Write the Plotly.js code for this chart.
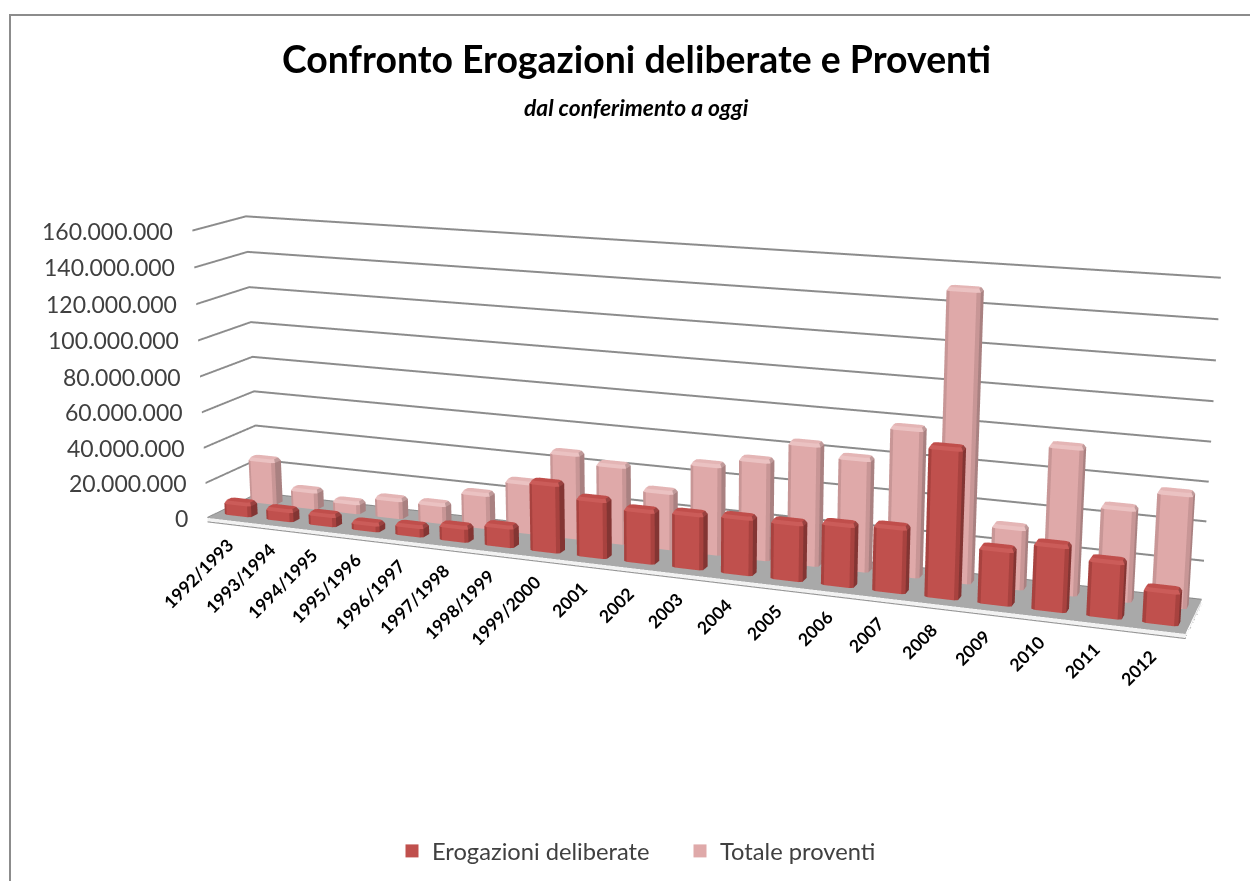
<!DOCTYPE html>
<html><head><meta charset="utf-8">
<script src="https://cdn.plot.ly/plotly-3.0.1.min.js"></script>
<style>html,body{margin:0;padding:0;background:#fff;width:1250px;height:881px;overflow:hidden}
#wrap{position:absolute;left:0;top:0;width:1250px;height:881px;overflow:hidden}
#chart{position:absolute;left:-325px;top:-506px;width:2000px;height:1830px}</style>
</head><body><div id="wrap"><div id="chart"></div></div>
<script>
const categories=["1992/1993","1993/1994","1994/1995","1995/1996","1996/1997","1997/1998","1998/1999","1999/2000","2001","2002","2003","2004","2005","2006","2007","2008","2009","2010","2011","2012"];
const erogazioni=[8,7,7,5,6.5,9,12,38,32,29,30,31,31,33,34.5,77,29,34,29,17.5].map(v=>v*1e6);
const proventi=[26,11,7,11.5,11.5,20,29,47.5,43.5,32,49,54,65,60,78,150,32.5,76,48,58].map(v=>v*1e6);
const zTicks=[0,20,40,60,80,100,120,140,160].map(v=>v*1e6);
const zTickText=["0","20.000.000","40.000.000","60.000.000","80.000.000","100.000.000","120.000.000","140.000.000","160.000.000"];

const DW=2000,DH=1830,OX=-325,OY=-506;
const px=x=>(x-OX)/DW, py=y=>1-(y-OY)/DH;

const redShades={f:'#c0504d',fr:'#a8423f',r:'#833533',bk:'#8a3a38',l:'#a03e3c',fl:'#a8423f',top:'#c04e4b',tf:'#cb5c59',tr:'#9a4240'};
const pinkShades={f:'#dfa9a9',fr:'#c89696',r:'#a98181',bk:'#b08888',l:'#c49494',fl:'#c89696',top:'#e4b5b5',tf:'#ebc2c2',tr:'#c09a9a'};

function barMesh(values,row,shades,name){
  const X=[],Y=[],Z=[],I=[],J=[],K=[],C=[];
  const hx=0.32,hy=0.16,cx=0.07,cy=0.04,cz=1.8e6;
  values.forEach((v,idx)=>{
    const xc=idx,yc=row+0.5;
    const octo=(ins)=>{const a=hx-ins,b=hy-ins,c=cx,d=cy;
      return [[xc-a+c,yc-b],[xc+a-c,yc-b],[xc+a,yc-b+d],[xc+a,yc+b-d],[xc+a-c,yc+b],[xc-a+c,yc+b],[xc-a,yc+b-d],[xc-a,yc-b+d]];};
    const base=X.length;
    const rings=[[octo(0),0],[octo(0),v-cz],[octo(0.04),v]];
    rings.forEach(([pts,z])=>pts.forEach(p=>{X.push(p[0]);Y.push(p[1]);Z.push(z);}));
    const side=[shades.f,shades.fr,shades.r,shades.r,shades.bk,shades.l,shades.l,shades.fl];
    const topc=[shades.tf,shades.tf,shades.tr,shades.tr,shades.top,shades.top,shades.top,shades.tf];
    for(let r=0;r<2;r++)for(let s=0;s<8;s++){
      const a=base+r*8+s,b=base+r*8+(s+1)%8,c=base+(r+1)*8+(s+1)%8,d=base+(r+1)*8+s;
      const col=r===0?side[s]:topc[s];
      I.push(a,a);J.push(b,c);K.push(c,d);C.push(col,col);
    }
    for(let s=1;s<7;s++){I.push(base+16);J.push(base+16+s);K.push(base+16+s+1);C.push(shades.top);}
  });
  return {type:'mesh3d',name:name,x:X,y:Y,z:Z,i:I,j:J,k:K,facecolor:C,flatshading:true,
    lighting:{ambient:1,diffuse:0,specular:0,roughness:1,fresnel:0},hoverinfo:'skip',showlegend:false,showscale:false};
}
function slab(x0,x1,y0,y1,z0,z1,cols){
  const X=[x0,x1,x1,x0,x0,x1,x1,x0],Y=[y0,y0,y1,y1,y0,y0,y1,y1],Z=[z0,z0,z0,z0,z1,z1,z1,z1];
  const I=[4,4,0,0,1,1,3,3],J=[5,6,1,5,2,6,0,4],K=[6,7,5,4,6,5,4,7];
  return {type:'mesh3d',x:X,y:Y,z:Z,i:I,j:J,k:K,facecolor:[cols.top,cols.top,cols.front,cols.front,cols.side,cols.side,cols.side,cols.side],
    flatshading:true,lighting:{ambient:1,diffuse:0,specular:0,roughness:1,fresnel:0},hoverinfo:'skip',showlegend:false,showscale:false};
}
const n=categories.length,floorZ=-2e6;
const floor=slab(-0.5,n-0.5,0,2,floorZ,0,{top:'#a9a9a9',front:'#f2f2f2',side:'#dedede'});
const floorEdge={type:'scatter3d',mode:'lines',x:[-0.5,n-0.5,n-0.5],y:[0,0,2],z:[floorZ,floorZ,floorZ],line:{color:'#979797',width:4},hoverinfo:'skip',showlegend:false};
const legendProxy=(name,color)=>({type:'scatter3d',mode:'markers',name:name,x:[null],y:[null],z:[null],
  marker:{symbol:'square',size:13,color:color,line:{color:color,width:0}},hoverinfo:'skip',showlegend:true});

const traces=[floor,floorEdge,
  barMesh(erogazioni,0,redShades,'Erogazioni deliberate'),
  barMesh(proventi,1,pinkShades,'Totale proventi'),
  legendProxy('Erogazioni deliberate','#c0504d'),
  legendProxy('Totale proventi','#dfa9a9')];

const annFont={family:'Lato, "Open Sans", sans-serif',size:23,color:'#404040'};
const sceneAnn=[];
zTicks.forEach((z,i)=>sceneAnn.push({x:-0.5,y:0,z:z,text:zTickText[i],showarrow:false,xanchor:'right',yanchor:'middle',xshift:-17,font:annFont}));
categories.forEach((c,i)=>sceneAnn.push({x:i,y:0,z:floorZ,text:'<b>'+c+'</b>',showarrow:false,textangle:-45,xanchor:'right',yanchor:'top',xshift:12-5*i/(n-1),yshift:-8,
  font:{family:'Lato, "Open Sans", sans-serif',size:17.5,color:'#000'}}));

const axisBase={showgrid:false,zeroline:false,showline:false,showticklabels:false,ticks:'',showbackground:false,showspikes:false,title:{text:''}};
const theta=21*Math.PI/180,phi=13.7*Math.PI/180,D=2.116;
const layout={width:DW,height:DH,margin:{l:0,r:0,t:0,b:0},paper_bgcolor:'#fff',
  title:{text:'<b>Confronto Erogazioni deliberate e Proventi</b>',x:px(636.5),y:py(60),xref:'paper',yref:'paper',xanchor:'center',yanchor:'middle',
    font:{family:'Lato, "Open Sans", sans-serif',size:37.4,color:'#000'}},
  annotations:[{text:'<b><i>dal conferimento a oggi</i></b>',x:px(636),y:py(107),xref:'paper',yref:'paper',showarrow:false,xanchor:'center',yanchor:'middle',
    font:{family:'Lato, "Open Sans", sans-serif',size:22.8,color:'#000'}}],
  shapes:[{type:'line',xref:'paper',yref:'paper',x0:px(10),x1:px(10),y0:py(14),y1:py(881),line:{color:'#8c8c8c',width:2}},
          {type:'line',xref:'paper',yref:'paper',x0:px(10),x1:px(1250),y0:py(15),y1:py(15),line:{color:'#8c8c8c',width:2}}],
  legend:{orientation:'h',x:px(392),y:py(851),xanchor:'left',yanchor:'middle',entrywidth:243,entrywidthmode:'pixels',font:{family:'Lato, "Open Sans", sans-serif',size:23.7,color:'#404040'},bgcolor:'rgba(0,0,0,0)'},
  scene:{domain:{x:[0,1],y:[0,1]},
    aspectmode:'manual',aspectratio:{x:0.995,y:0.10,z:0.303},
    camera:{projection:{type:'perspective'},up:{x:0,y:0,z:1},center:{x:0,y:0,z:0},
      eye:{x:D*Math.sin(theta)*Math.cos(phi),y:-D*Math.cos(theta)*Math.cos(phi),z:D*Math.sin(phi)}},
    xaxis:Object.assign({},axisBase,{range:[-0.5,n-0.5]}),
    yaxis:Object.assign({},axisBase,{range:[0,2]}),
    zaxis:Object.assign({},axisBase,{range:[floorZ,160e6],showgrid:true,gridcolor:'#8c8c8c',gridwidth:4,tickvals:zTicks}),
    annotations:sceneAnn}
};
Plotly.newPlot('chart',traces,layout,{displayModeBar:false,responsive:false});
</script></body></html>
